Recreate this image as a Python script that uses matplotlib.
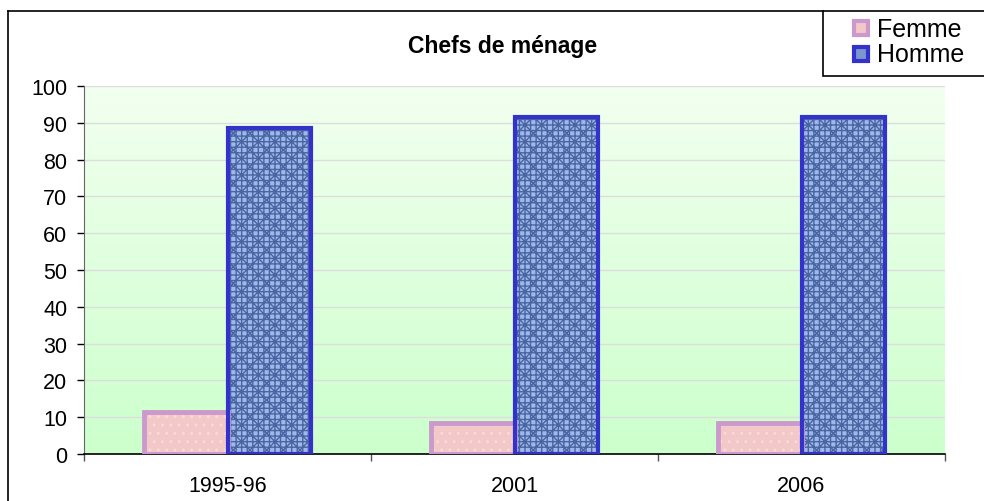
import numpy as np
import matplotlib
matplotlib.use("Agg")
import matplotlib.pyplot as plt
from matplotlib.patches import Rectangle
from matplotlib.lines import Line2D

years = ["1995-96", "2001", "2006"]
femme = [11.5, 8.5, 8.5]
homme = [88.5, 91.5, 91.5]

W, H = 984, 502
plt.rcParams['font.family'] = ['Liberation Sans', 'DejaVu Sans']
plt.rcParams['hatch.linewidth'] = 1.0

fig = plt.figure(figsize=(W / 100, H / 100), dpi=100)
# plot area in pixels: x 84..945, y 87..455
ax = fig.add_axes([84 / W, 1 - 455 / H, (945 - 84) / W, (455 - 87) / H])

# green gradient background
grad = np.linspace(0, 1, 256).reshape(-1, 1)
top = np.array([0.95, 1.0, 0.94])
bot = np.array([0.80, 1.0, 0.80])
img = top + (bot - top) * grad[..., None]
ax.imshow(img, extent=[0, 3, 0, 100], aspect='auto', zorder=0, origin='upper')

x = np.arange(len(years)) + 0.5
bw = 0.29
for i in range(len(years)):
    # femme: pink with lavender border
    ax.bar(x[i] - bw / 2, femme[i], bw, color='#f2c8c8', edgecolor='#f8dada',
           hatch='..', linewidth=0, zorder=3)
    ax.bar(x[i] - bw / 2, femme[i], bw, fill=False, edgecolor='#cc99cc',
           linewidth=3.5, zorder=4)
    # homme: blue texture with blue border
    ax.bar(x[i] + bw / 2, homme[i], bw, color='#9fb8ea', edgecolor='#4a66a2',
           hatch='+++xx', linewidth=0, zorder=3)
    ax.bar(x[i] + bw / 2, homme[i], bw, fill=False, edgecolor='#3333cc',
           linewidth=3, zorder=4)

ax.set_xlim(0, 3)
ax.set_ylim(0, 100)
ax.set_yticks(range(0, 101, 10))
ax.yaxis.grid(True, color='#dddddd', linewidth=1)
for gl in ax.get_ygridlines():
    gl.set_zorder(1)
ax.set_xticks([0, 1, 2, 3])
ax.set_xticklabels([])
ax.set_xticks(x, minor=True)
ax.set_xticklabels(years, minor=True)
ax.tick_params(axis='x', which='minor', length=0, pad=15, labelsize=15.5)
ax.tick_params(axis='x', which='major', length=5, width=1, color='#555555')
ax.tick_params(axis='y', length=5, width=1, labelsize=15.5, pad=7)
for s in ['top', 'right']:
    ax.spines[s].set_visible(False)
ax.spines['left'].set_color('#666666')
ax.spines['bottom'].set_color('black')
ax.spines['bottom'].set_linewidth(1.2)

fig.text(503 / W, 1 - 46 / H, "Chefs de ménage", ha='center', va='center',
         fontsize=16.5, fontweight='bold')

# outer chart frame
fig.add_artist(Line2D([8 / W, 8 / W], [0, 1 - 12 / H], color='black', linewidth=1.2))
fig.add_artist(Line2D([8 / W, 823 / W], [1 - 12 / H, 1 - 12 / H], color='black', linewidth=1.2))

# legend box
fig.add_artist(Rectangle((823 / W, 1 - 77 / H), (990 - 823) / W, 65 / H,
                         transform=fig.transFigure, facecolor='white',
                         edgecolor='black', linewidth=1.2))
fig.add_artist(Rectangle((854 / W, 1 - 36 / H), 14 / W, 14 / H,
                         transform=fig.transFigure, facecolor='#f2c8c8',
                         edgecolor='#cc99cc', linewidth=3))
fig.add_artist(Rectangle((854 / W, 1 - 62 / H), 14 / W, 14 / H,
                         transform=fig.transFigure, facecolor='#7d96d0',
                         edgecolor='#3333cc', linewidth=3))
fig.text(877 / W, 1 - 30 / H, "Femme", ha='left', va='center', fontsize=18)
fig.text(877 / W, 1 - 55 / H, "Homme", ha='left', va='center', fontsize=18)

fig.savefig("out.png", dpi=100)
